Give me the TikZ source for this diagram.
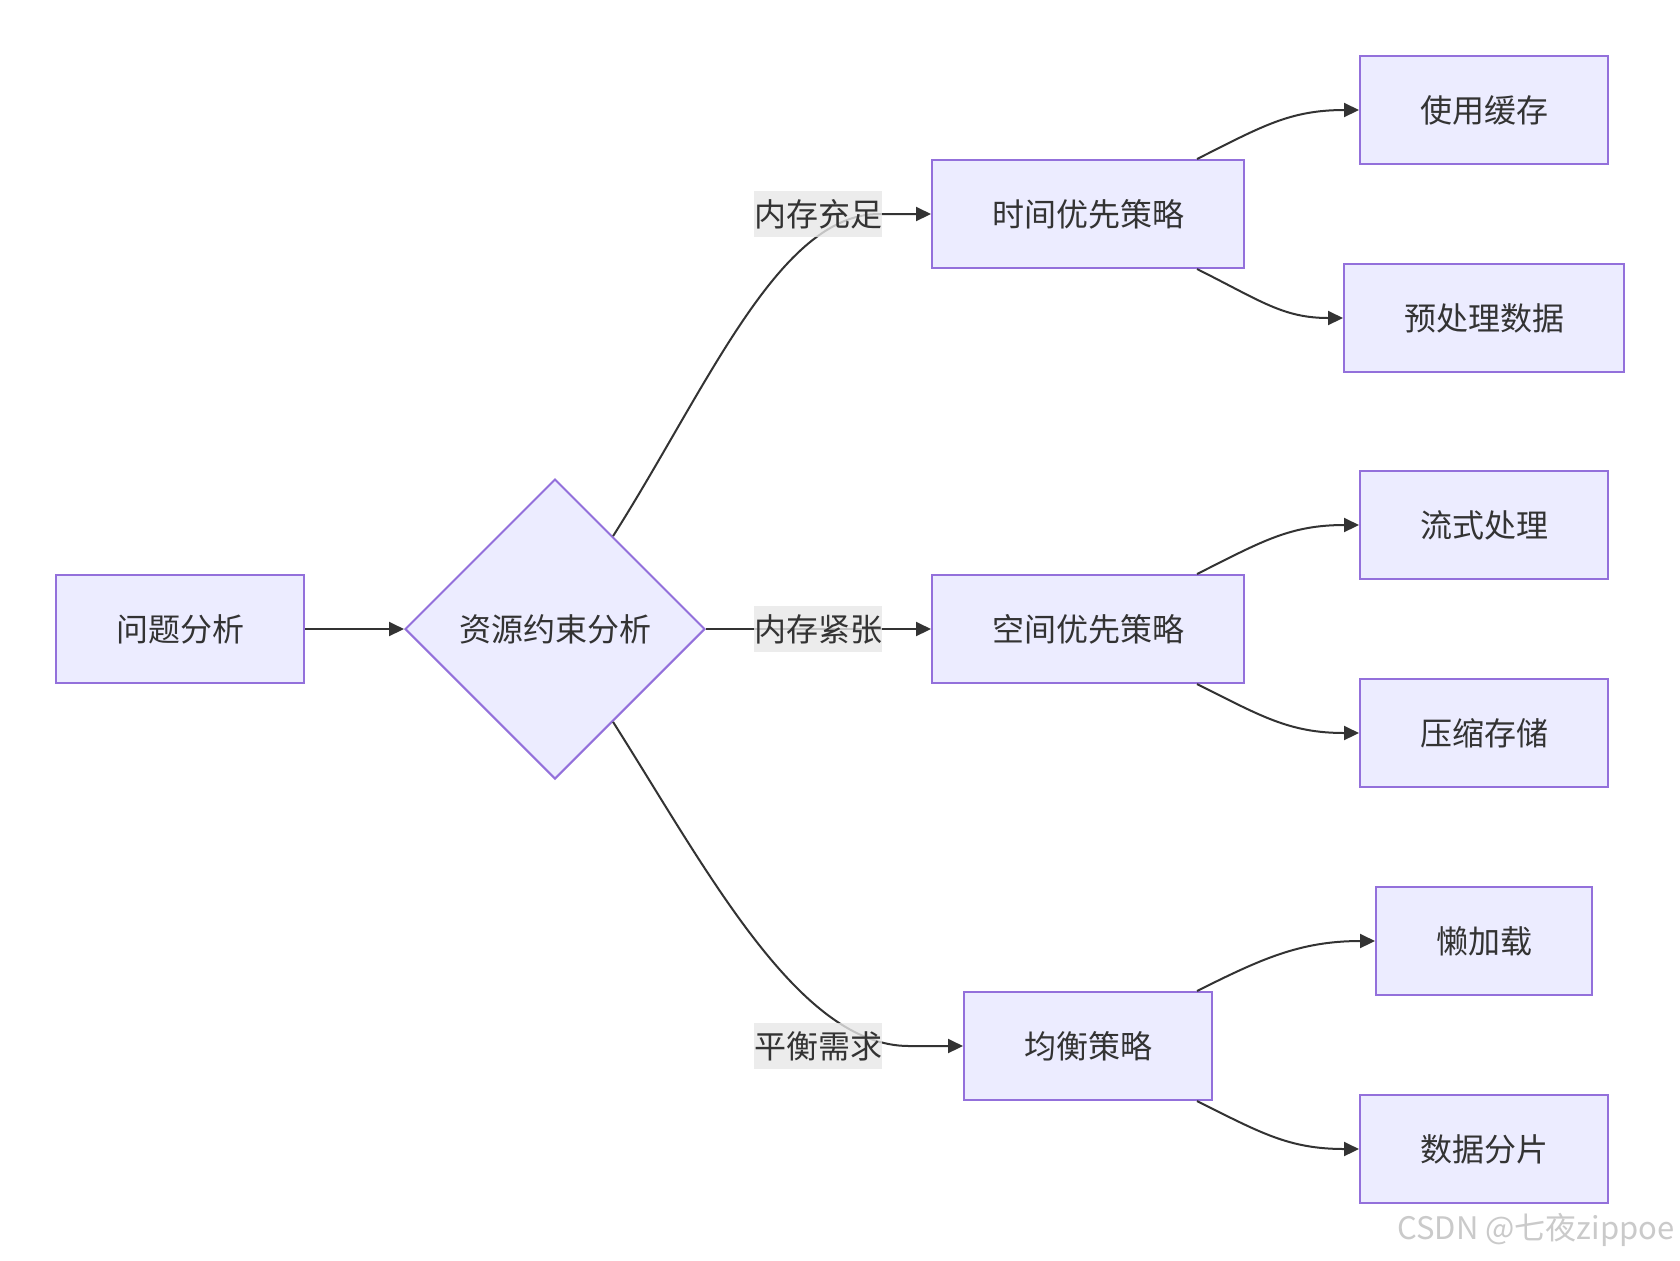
\documentclass[tikz,border=0pt]{standalone}
\usepackage{fontspec}
\setmainfont{Noto Sans CJK SC}
\usetikzlibrary{shapes.geometric,arrows.meta,calc}
\definecolor{nodefill}{HTML}{ECECFF}
\definecolor{nodeline}{HTML}{9370DB}
\definecolor{ink}{HTML}{333333}
\definecolor{labelbg}{HTML}{E8E8E8}
\definecolor{wm}{HTML}{CACACA}
\begin{document}
\begin{tikzpicture}[x=0.5pt,y=-0.5pt,
  font=\fontsize{16}{19}\selectfont, text=ink,
  box/.style={draw=nodeline, fill=nodefill, line width=1pt, minimum height=54pt, inner xsep=0pt, text=ink},
  dec/.style={diamond, draw=nodeline, fill=nodefill, line width=1pt, minimum width=150pt, minimum height=150pt, inner sep=0pt, text=ink},
  edge/.style={draw=ink, line width=1pt, -{Triangle[length=7.5pt,width=7pt]}},
  lbl/.style={fill=labelbg, fill opacity=0.8, text opacity=1, inner sep=0pt, minimum height=23pt, minimum width=64pt, text=ink}]
\useasboundingbox (0,0) rectangle (1680,1260);
\fill[white] (0,0) rectangle (1680,1260);
% nodes
\node[box, minimum width=124pt] (A) at (180,629) {问题分析};
\node[dec] (B) at (555,629) {资源约束分析};
\node[box, minimum width=156pt] (T) at (1088,214) {时间优先策略};
\node[box, minimum width=156pt] (S) at (1088,629) {空间优先策略};
\node[box, minimum width=124pt] (J) at (1088,1046) {均衡策略};
\node[box, minimum width=124pt] (C1) at (1484,110) {使用缓存};
\node[box, minimum width=140pt] (C2) at (1484,318) {预处理数据};
\node[box, minimum width=124pt] (C3) at (1484,525) {流式处理};
\node[box, minimum width=124pt] (C4) at (1484,733) {压缩存储};
\node[box, minimum width=108pt] (C5) at (1484,941) {懒加载};
\node[box, minimum width=124pt] (C6) at (1484,1149) {数据分片};
% edges
\draw[edge] (A.east) -- (B.west);
\draw[edge] (B.58) .. controls +(95,-150) and +(-100,0) .. ([xshift=-26pt]T.west) -- (T.west);
\draw[edge] (B.east) -- (S.west);
\draw[edge] (B.-58) .. controls +(95,150) and +(-110,0) .. ([xshift=-27pt]J.west) -- (J.west);
\draw[edge] ([xshift=-24pt]T.north east) .. controls +(64,-32) and +(-70,0) .. (C1.west);
\draw[edge] ([xshift=-24pt]T.south east) .. controls +(64,32) and +(-60,0) .. (C2.west);
\draw[edge] ([xshift=-24pt]S.north east) .. controls +(64,-32) and +(-70,0) .. (C3.west);
\draw[edge] ([xshift=-24pt]S.south east) .. controls +(64,32) and +(-70,0) .. (C4.west);
\draw[edge] ([xshift=-8pt]J.north east) .. controls +(64,-32) and +(-75,0) .. (C5.west);
\draw[edge] ([xshift=-8pt]J.south east) .. controls +(64,32) and +(-70,0) .. (C6.west);
% edge labels
\node[lbl] (L1) at (818,214) {内存充足};
\node[lbl] (L2) at (818,629) {内存紧张};
\node[lbl] (L3) at (818,1046) {平衡需求};
% watermark
\node[font=\fontsize{15.5}{18}\selectfont, text=wm, inner sep=0pt] (W) at (1536,1230) {CSDN @七夜zippoe};
\end{tikzpicture}
\end{document}
